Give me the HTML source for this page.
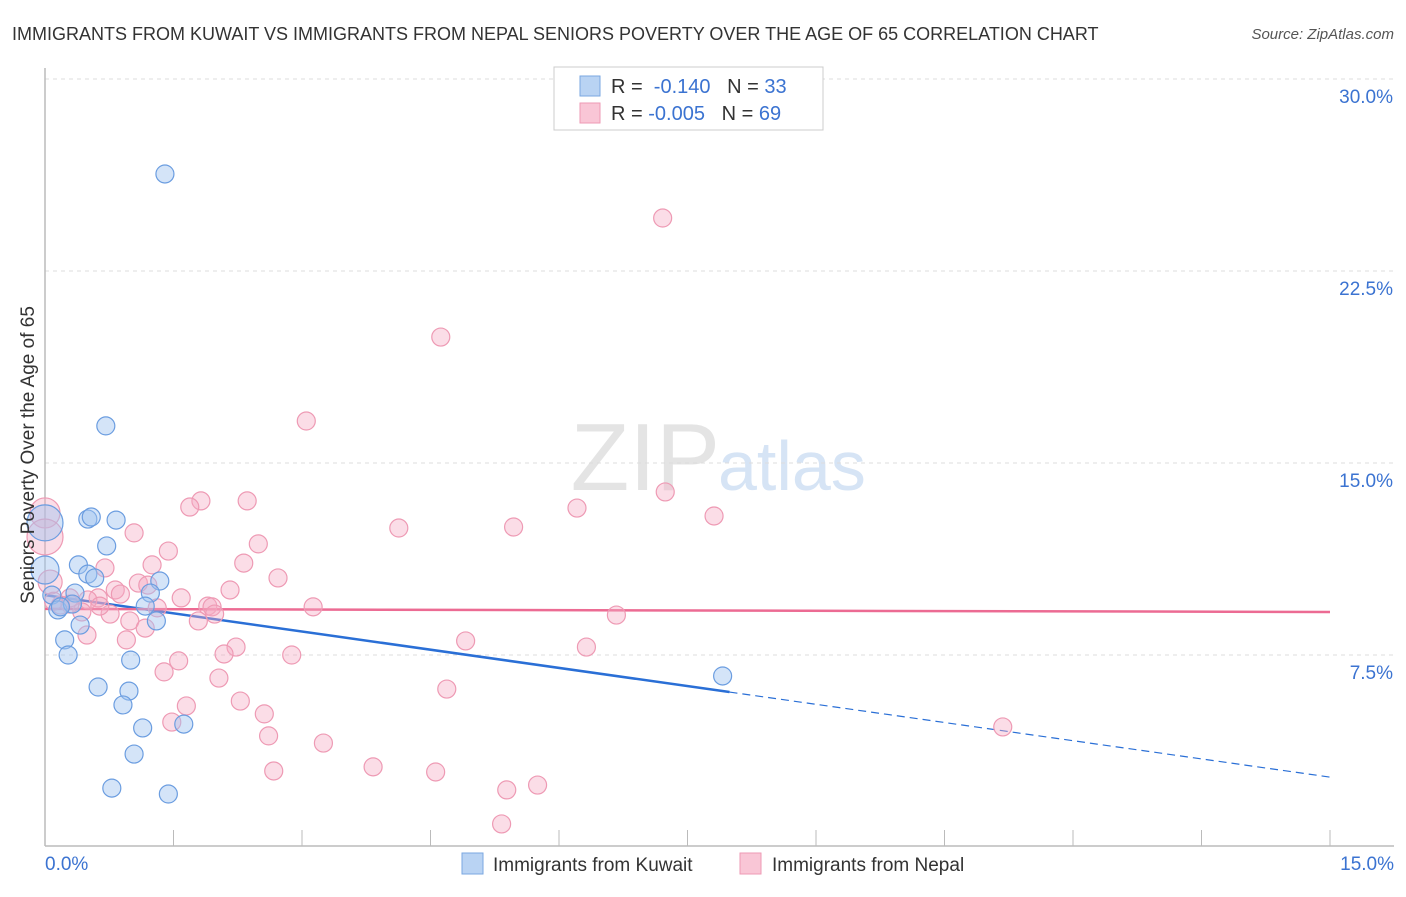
<!DOCTYPE html>
<html><head><meta charset="utf-8"><style>
body{margin:0;background:#fff;font-family:"Liberation Sans",sans-serif}
svg text{font-family:"Liberation Sans",sans-serif}
</style></head><body>
<svg id="chart" width="1406" height="892">
<text x="12" y="40" font-size="18" fill="#333">IMMIGRANTS FROM KUWAIT VS IMMIGRANTS FROM NEPAL SENIORS POVERTY OVER THE AGE OF 65 CORRELATION CHART</text>
<text x="1394" y="39" font-size="15" fill="#555" font-style="italic" text-anchor="end">Source: ZipAtlas.com</text>
<text x="720" y="490" font-size="96" fill="#e4e4e4" text-anchor="end" font-family="Liberation Serif">ZIP</text>
<text x="718" y="490" font-size="70" fill="#d6e4f5">atlas</text>
<g id="grid"></g><g id="axes"></g><g id="trends"></g><g id="points"></g>
<text transform="translate(34,455) rotate(-90)" font-size="19" fill="#333" text-anchor="middle">Seniors Poverty Over the Age of 65</text>
<g>
<rect x="554" y="67" width="269" height="63" fill="#fff" stroke="#ccc"/>
<rect x="580" y="76" width="20" height="20" fill="#b9d3f3" stroke="#7aa7e0"/>
<rect x="580" y="103" width="20" height="20" fill="#f9c6d6" stroke="#ee9ab4"/>
<text x="611" y="93" font-size="20" fill="#333">R = <tspan fill="#3b73d1">&#160;-0.140</tspan>&#160;&#160;&#160;N = <tspan fill="#3b73d1">33</tspan></text>
<text x="611" y="120" font-size="20" fill="#333">R = <tspan fill="#3b73d1">-0.005</tspan>&#160;&#160;&#160;N = <tspan fill="#3b73d1">69</tspan></text>
</g>
<g>
<rect x="462" y="853" width="21" height="21" fill="#b9d3f3" stroke="#7aa7e0"/>
<text x="493" y="871" font-size="19" fill="#333">Immigrants from Kuwait</text>
<rect x="740" y="853" width="21" height="21" fill="#f9c6d6" stroke="#ee9ab4"/>
<text x="772" y="871" font-size="19" fill="#333">Immigrants from Nepal</text>
</g>
</svg>
<script>
const kuwaitX=[1.40,0.71,0.50,0.54,0.83,0.72,0.39,0.50,0.58,1.34,0.08,0.35,1.23,1.17,0.15,0.32,1.30,0.41,0.23,0.27,1.00,0.62,0.98,0.91,1.14,1.62,1.04,0.78,1.44,7.91,0,0,0.18];
const kuwaitY=[26.29,16.45,12.81,12.89,12.77,11.76,11.02,10.66,10.51,10.39,9.84,9.92,9.92,9.41,9.26,9.49,8.83,8.67,8.09,7.50,7.30,6.25,6.09,5.55,4.65,4.80,3.63,2.30,2.07,6.68,12.66,10.82,9.38];
const kuwaitR=[9,9,9,9,9,9,9,9,9,9,9,9,9,9,9,9,9,9,9,9,9,9,9,9,9,9,9,9,9,9,18,14,9];
const nepalX=[7.21,4.62,3.05,1.82,2.36,1.69,7.24,6.21,7.81,4.13,5.47,1.04,0,0,1.44,2.49,0.70,1.25,2.32,2.72,1.09,0.06,0.82,2.16,0.62,0.88,1.59,1.20,0.29,0.50,1.90,1.95,3.13,1.31,0.43,0.76,6.67,0.99,1.98,1.17,1.79,0.49,0.95,4.91,2.23,2.09,2.88,6.32,1.56,1.39,2.03,4.69,1.65,2.28,2.56,1.48,2.61,3.25,2.67,3.83,4.56,11.18,5.39,5.75,5.33,0.29,0.64,0.18,0.10];
const nepalY=[24.57,19.92,16.64,13.52,13.52,13.28,13.87,13.24,12.93,12.46,12.50,12.27,13.05,12.11,11.56,11.84,10.90,11.02,11.09,10.51,10.31,10.35,10.04,10.04,9.73,9.88,9.73,10.23,9.73,9.65,9.41,9.38,9.38,9.34,9.18,9.10,9.06,8.83,9.10,8.55,8.83,8.28,8.09,8.05,7.81,7.54,7.50,7.81,7.27,6.84,6.60,6.17,5.51,5.70,5.20,4.88,4.34,4.06,2.97,3.13,2.93,4.69,2.23,2.42,0.90,9.49,9.41,9.45,9.60];
const nepalR=[9,9,9,9,9,9,9,9,9,9,9,9,15,18,9,9,9,9,9,9,9,12,9,9,9,9,9,9,9,9,9,9,9,9,9,9,9,9,9,9,9,9,9,9,9,9,9,9,9,9,9,9,9,9,9,9,9,9,9,9,9,9,9,9,9,9,9,9,9];
const xTicks=[0,1.5,3,4.5,6,7.5,9,10.5,12,13.5,15];
const yTicks=[7.5,15,22.5,30];
const yTickLabels=["7.5%","15.0%","22.5%","30.0%"];
const kuwaitTrend=[9.84,-0.474,7.99]; // intercept, slope, solid end
const nepalTrend=[9.3,9.18];
const NS="http://www.w3.org/2000/svg";
const X=v=>45+v/15*1285, Y=v=>847-v*25.6;
function mk(tag,attrs,parent){const e=document.createElementNS(NS,tag);for(const k in attrs)e.setAttribute(k,attrs[k]);document.getElementById(parent).appendChild(e);return e;}
yTicks.forEach((t,i)=>{
 let g=mk('line',{x1:45,x2:1394,y1:Y(t),y2:Y(t),stroke:'#ddd','stroke-dasharray':'4,4'},'grid');
 
 
 let l=mk('text',{x:1393,y:Y(t)+24,'font-size':19,fill:'#3b73d1','text-anchor':'end'},'grid');l.textContent=yTickLabels[i];
 
 
});
let ya=mk('line',{x1:45,x2:45,y1:68,y2:846,stroke:'#bbb','stroke-width':1.5},'axes');


let xa=mk('line',{x1:45,x2:1394,y1:846,y2:846,stroke:'#bbb','stroke-width':1.5},'axes');


xTicks.forEach(t=>{let k=mk('line',{x1:X(t),x2:X(t),y1:830,y2:846,stroke:'#bbb'},'axes');
 
 });
let x0=mk('text',{x:45,y:870,'font-size':19,fill:'#3b73d1'},'axes');x0.textContent='0.0%';


let x1=mk('text',{x:1394,y:870,'font-size':19,fill:'#3b73d1','text-anchor':'end'},'axes');x1.textContent='15.0%';


function dot(x,y,r,f,s,n){let c=mk('circle',{cx:X(x),cy:Y(y),r:r,fill:f,stroke:s,'stroke-width':1.2},'points');
 
 }
nepalX.forEach((x,i)=>dot(x,nepalY[i],nepalR[i],'rgba(246,170,196,0.4)','#ee9ab4','nepal-point'));
kuwaitX.forEach((x,i)=>dot(x,kuwaitY[i],kuwaitR[i],'rgba(160,196,240,0.45)','#6b9de0','kuwait-point'));
const kt=x=>kuwaitTrend[0]+kuwaitTrend[1]*x;
let ks=mk('line',{x1:X(0),y1:Y(kt(0)),x2:X(kuwaitTrend[2]),y2:Y(kt(kuwaitTrend[2])),stroke:'#2a6fd6','stroke-width':2.5},'trends');


let kd=mk('line',{x1:X(kuwaitTrend[2]),y1:Y(kt(kuwaitTrend[2])),x2:X(15),y2:Y(kt(15)),stroke:'#2a6fd6','stroke-width':1.2,'stroke-dasharray':'8,5'},'trends');


let nt=mk('line',{x1:X(0),y1:Y(nepalTrend[0]),x2:X(15),y2:Y(nepalTrend[1]),stroke:'#ec6b93','stroke-width':2.5},'trends');


</script>
</body></html>
